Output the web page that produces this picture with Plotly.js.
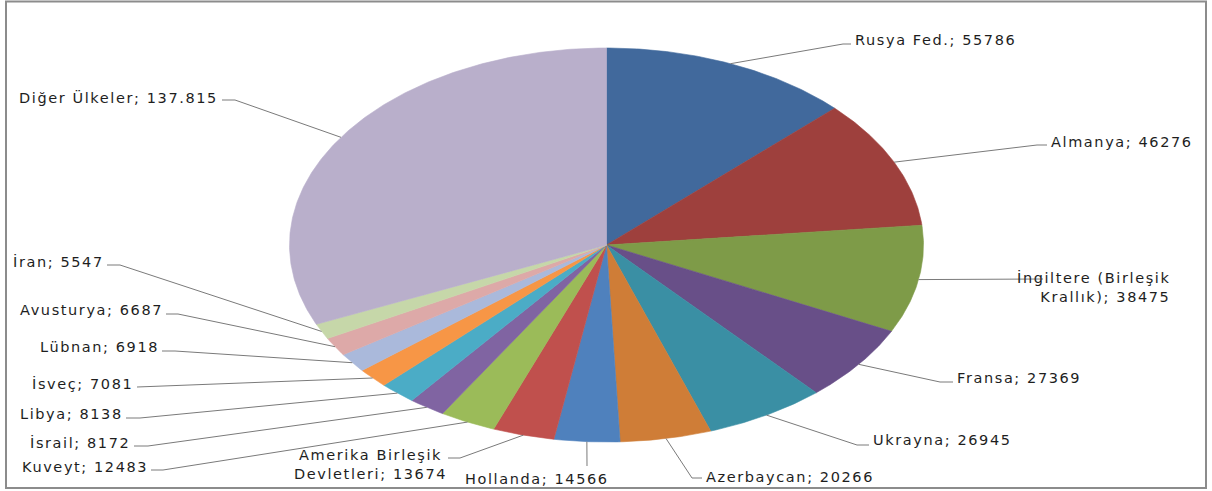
<!DOCTYPE html>
<html><head><meta charset="utf-8">
<script src="https://cdn.plot.ly/plotly-3.0.1.min.js"></script>
<style>
html,body{margin:0;padding:0;background:#fff;}
#chart{width:1212px;height:491px;}
text.annotation-text{letter-spacing:1.6px;}
</style></head><body><div id="chart"></div>
<script>
// ---- data ----
const categories = ["Rusya Fed.", "Almanya", "İngiltere (Birleşik<br>Krallık)", "Fransa", "Ukrayna", "Azerbaycan", "Hollanda", "Amerika Birleşik<br>Devletleri", "Kuveyt", "İsrail", "Libya", "İsveç", "Lübnan", "Avusturya", "İran", "Diğer Ülkeler"];
const values = [55786, 46276, 38475, 27369, 26945, 20266, 14566, 13674, 12483, 8172, 8138, 7081, 6918, 6687, 5547, 137815];
const valueLabels = ["55786", "46276", "38475", "27369", "26945", "20266", "14566", "13674", "12483", "8172", "8138", "7081", "6918", "6687", "5547", "137.815"];
const colors = ["#41699C", "#9E403D", "#7E9B48", "#684F88", "#3A8FA4", "#CF7D37", "#4F81BD", "#C0504D", "#9BBB59", "#8064A2", "#4BACC6", "#F79646", "#AAB9DB", "#DDA9A8", "#C6D7A9", "#B9AFCB"];

// ---- layout constants (pixel space) ----
const CX = 606.5, CY = 245, RX = 317, RY = 197;
const labelLayout = [
  {x: 853, y: 40, xanchor: 'left', align: 'left', elbow: [843, 44], end: [851, 44]},
  {x: 1049, y: 142, xanchor: 'left', align: 'left', elbow: [1037, 145], end: [1047, 145]},
  {x: 1172, y: 287, xanchor: 'right', align: 'right', elbow: [1030, 279], end: [1043, 279]},
  {x: 955, y: 378, xanchor: 'left', align: 'left', elbow: [940, 382], end: [953, 382]},
  {x: 871, y: 440, xanchor: 'left', align: 'left', elbow: [857, 445], end: [869, 445]},
  {x: 704, y: 477, xanchor: 'left', align: 'left', elbow: [692, 478], end: [702, 478]},
  {x: 537, y: 479, xanchor: 'center', align: 'center', elbow: [587, 465], end: [587, 466]},
  {x: 370, y: 464, xanchor: 'center', align: 'center', elbow: [460, 458], end: [448, 458]},
  {x: 150, y: 467, xanchor: 'right', align: 'right', elbow: [163, 470], end: [151, 470]},
  {x: 132, y: 442, xanchor: 'right', align: 'right', elbow: [148, 446], end: [134, 446]},
  {x: 125, y: 414, xanchor: 'right', align: 'right', elbow: [140, 418], end: [126, 418]},
  {x: 135, y: 383, xanchor: 'right', align: 'right', elbow: [150, 387], end: [137, 387]},
  {x: 161, y: 347, xanchor: 'right', align: 'right', elbow: [175, 351], end: [162, 351]},
  {x: 165, y: 310, xanchor: 'right', align: 'right', elbow: [178, 314], end: [166, 314]},
  {x: 106, y: 261, xanchor: 'right', align: 'right', elbow: [120, 265], end: [107, 265]},
  {x: 220, y: 97, xanchor: 'right', align: 'right', elbow: [235, 100], end: [222, 100]}
];

const total = values.reduce((a, b) => a + b, 0);
let cum = 0;
const sliceTraces = [], leaderTraces = [], annotations = [];
values.forEach((v, i) => {
  const a0 = cum / total * 2 * Math.PI; cum += v; const a1 = cum / total * 2 * Math.PI;
  const xs = [CX], ys = [CY];
  const n = Math.max(2, Math.ceil((a1 - a0) / (Math.PI / 360)));
  for (let k = 0; k <= n; k++) {
    const t = a0 + (a1 - a0) * k / n;
    xs.push(CX + RX * Math.sin(t)); ys.push(CY - RY * Math.cos(t));
  }
  xs.push(CX); ys.push(CY);
  sliceTraces.push({type: 'scatter', mode: 'lines', x: xs, y: ys, fill: 'toself',
    fillcolor: colors[i], line: {color: colors[i], width: 0.6}, hoverinfo: 'skip', showlegend: false});
  const am = (a0 + a1) / 2;
  const ex = CX + RX * Math.sin(am), ey = CY - RY * Math.cos(am);
  const L = labelLayout[i];
  leaderTraces.push({type: 'scatter', mode: 'lines', x: [ex, L.elbow[0], L.end[0]], y: [ey, L.elbow[1], L.end[1]],
    line: {color: '#7a7a7a', width: 1}, hoverinfo: 'skip', showlegend: false});
  annotations.push({x: L.x, y: L.y, xref: 'x', yref: 'y', xanchor: L.xanchor, yanchor: 'middle', align: L.align,
    showarrow: false, text: categories[i] + '; ' + valueLabels[i],
    font: {family: 'DejaVu Sans', size: 14.5, color: '#1e1e1e'}});
});

const layout = {
  width: 1212, height: 491,
  margin: {l: 0, r: 0, t: 0, b: 0},
  paper_bgcolor: '#ffffff', plot_bgcolor: '#ffffff',
  xaxis: {range: [0, 1212], visible: false, fixedrange: true},
  yaxis: {range: [491, 0], visible: false, fixedrange: true},
  showlegend: false,
  annotations: annotations,
  shapes: [{type: 'rect', xref: 'x', yref: 'y', x0: 6, x1: 1206, y0: 1.5, y1: 488,
    line: {color: '#8c8c8c', width: 2}, fillcolor: 'rgba(0,0,0,0)'}]
};
Plotly.newPlot('chart', sliceTraces.concat(leaderTraces), layout, {displayModeBar: false, staticPlot: true});
</script></body></html>
